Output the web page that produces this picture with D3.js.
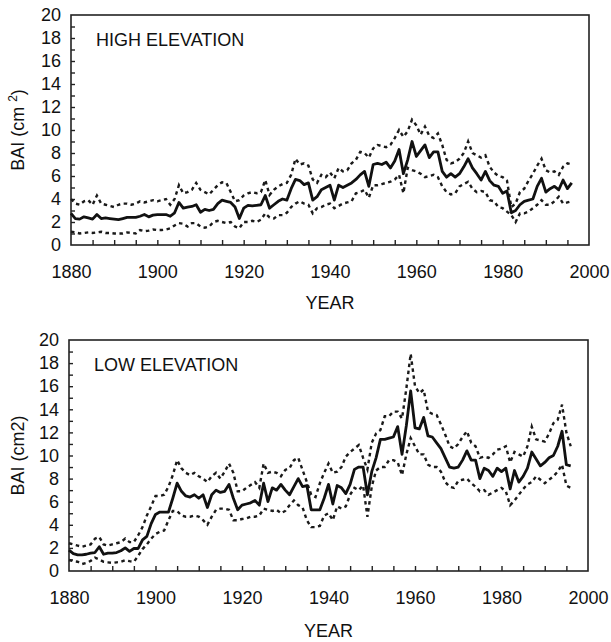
<!DOCTYPE html>
<html>
<head>
<meta charset="utf-8">
<script src="https://cdn.jsdelivr.net/npm/d3@7"></script>
<style>
  body { margin: 0; background: #fff; }
  svg { display: block; font-family: "Liberation Sans", Arial, sans-serif; }
</style>
</head>
<body>
<svg id="chart" width="611" height="642"></svg>
<script>
// years 1880-1996, one value per year
const years = d3.range(1880, 1997);

const highMean = [
  2.75, 2.3, 2.25, 2.45, 2.35, 2.25, 2.65, 2.3, 2.35, 2.3,
  2.25, 2.2, 2.3, 2.4, 2.4, 2.4, 2.5, 2.65, 2.45, 2.6,
  2.65, 2.65, 2.65, 2.5, 2.8, 3.7, 3.2, 3.3, 3.35, 3.5,
  2.85, 3.1, 3.0, 3.1, 3.6, 3.9, 3.8, 3.7, 3.3, 2.3,
  3.2, 3.45, 3.4, 3.45, 3.5, 4.3, 3.2, 3.5, 3.8, 4.0,
  3.9, 4.9, 5.7, 5.6, 5.25, 5.4, 3.9, 4.2, 4.8, 5.0,
  5.2, 3.9, 5.2, 5.0, 5.2, 5.4, 5.7, 6.1, 6.4, 5.1,
  7.0, 7.1, 7.0, 7.2, 6.7, 7.3, 8.3, 6.2, 7.4, 9.0,
  7.7, 8.2, 8.7, 7.6, 8.1, 8.1, 6.4, 5.9, 6.2, 5.9,
  6.2, 6.8, 7.5, 6.7, 6.2, 5.65, 6.4, 5.6, 5.2, 5.1,
  4.5, 4.7, 2.8, 3.0, 3.5, 3.8, 3.9, 4.0, 5.1, 5.8,
  4.6, 4.9, 5.1, 4.8, 5.65, 4.9, 5.4
];
const highUpper = [
  4.0, 3.6, 3.5, 3.8, 3.9, 3.5, 4.3, 3.6, 3.5, 3.4,
  3.3, 3.5, 3.6, 3.6, 3.5, 3.6, 3.8, 3.7, 3.8, 3.9,
  3.8, 3.9, 4.0, 3.5, 4.0, 5.2, 4.5, 4.6, 4.8, 5.4,
  4.8, 4.6, 4.4, 4.8, 5.2, 5.45, 5.4, 4.6, 3.8, 3.9,
  4.3, 4.5, 4.6, 4.5, 4.6, 5.65, 4.35, 4.8, 5.1, 5.3,
  5.4, 6.1, 7.5, 7.0, 7.1, 6.9, 5.7, 5.4, 6.1, 5.9,
  6.3, 5.8, 6.7, 6.4, 6.5, 7.1, 7.4, 8.1, 8.0, 7.6,
  8.4, 8.7, 8.6, 8.5, 8.7, 9.3, 10.0, 9.4, 9.9, 10.9,
  10.4, 9.6, 10.3, 9.5, 9.3, 9.7, 8.7, 7.4, 7.1, 7.2,
  7.5, 8.0, 9.0, 8.0, 7.8, 7.6, 7.8, 6.8, 6.3, 6.0,
  5.9, 5.6, 3.3, 3.6, 4.6, 4.9, 5.6, 6.2, 6.9, 7.5,
  6.5, 6.3, 6.4, 6.1, 6.8, 7.1, 7.0
];
const highLower = [
  1.15, 1.1, 1.0, 1.05, 1.1, 1.05, 1.1, 1.15, 1.05, 1.05,
  1.0, 1.0, 1.0, 1.1, 1.05, 1.0, 1.3, 1.2, 1.25, 1.35,
  1.3, 1.3, 1.35, 1.45, 1.7, 1.9, 1.85, 1.6, 1.9, 1.9,
  1.6, 1.5, 1.6, 2.0, 2.1, 2.0, 1.9, 2.0, 1.6, 1.45,
  2.0, 2.0, 2.1, 2.0, 2.2, 2.75, 2.4, 2.3, 2.6, 2.6,
  2.8, 3.3, 3.6, 3.8, 3.6, 3.5, 2.75, 3.2, 3.3, 3.5,
  3.6, 3.2, 3.4, 3.6, 3.7, 3.8, 4.5, 4.6, 4.8, 4.1,
  5.2, 5.2, 5.3, 5.4, 5.5, 5.7, 6.1, 4.5, 6.7, 6.5,
  6.4, 6.2, 5.9, 6.0, 6.1, 5.9, 5.1, 4.6, 4.4, 4.5,
  5.1, 5.3, 5.5, 4.9, 4.6, 4.7, 4.6, 3.9, 3.8, 3.3,
  3.2, 2.9, 2.6, 2.0, 2.75, 2.75, 2.9, 3.2, 3.5, 3.9,
  3.5, 3.5, 3.8, 4.2, 3.6, 3.7, 3.8
];

const lowMean = [
  1.8, 1.5, 1.4, 1.4, 1.45, 1.55, 1.6, 2.1, 1.45, 1.55,
  1.55, 1.6, 1.75, 2.0, 1.7, 1.95, 1.95, 2.7, 3.0, 4.1,
  4.9, 5.1, 5.1, 5.1, 6.3, 7.6, 6.9, 6.5, 6.4, 6.6,
  6.3, 6.6, 5.5, 6.6, 7.0, 6.8, 6.9, 7.5, 6.3, 5.3,
  5.7, 5.8, 5.9, 6.1, 5.7, 7.6, 6.0, 7.2, 7.0, 7.5,
  7.0, 6.6, 7.3, 8.0, 7.3, 7.4, 5.3, 5.3, 5.3, 6.3,
  7.5, 5.8, 7.4, 7.2, 6.7, 7.5, 8.8, 9.0, 9.0, 6.6,
  8.6, 9.8, 11.4, 11.4, 11.5, 11.6, 12.5, 10.1, 12.6, 15.6,
  12.4, 12.3, 13.3, 11.7, 11.6, 11.1, 10.6, 9.8, 9.0, 8.9,
  9.0, 9.6, 10.4, 9.6, 9.6, 8.0, 8.9, 8.7, 8.2, 8.9,
  8.6, 8.9, 7.1, 8.7, 7.7, 8.2, 8.9, 10.3, 9.7, 9.1,
  9.4, 9.8, 10.0, 10.8, 12.1, 9.2, 9.1
];
const lowUpper = [
  2.4, 2.3, 2.2, 2.1, 2.2, 2.3, 2.8, 2.95, 2.3, 2.2,
  2.3, 2.4, 2.5, 2.8, 2.5, 2.5, 3.1, 3.8, 4.8, 5.6,
  6.5, 6.5, 6.6, 7.3, 8.3, 9.6, 8.9, 8.5, 8.3, 8.5,
  8.2, 8.0, 7.7, 8.2, 8.5, 8.0, 8.6, 9.3, 8.5, 6.9,
  6.9, 7.2, 7.45, 7.7, 7.2, 9.3, 8.5, 8.6, 8.5, 8.2,
  8.75, 8.9, 9.6, 9.8, 8.75, 7.7, 6.6, 6.4, 7.6, 8.5,
  9.3, 8.5, 8.6, 9.0, 9.9, 10.3, 10.6, 10.9, 9.8, 8.8,
  11.1, 11.9, 12.2, 13.4, 13.4, 13.8, 13.8, 13.2, 15.8, 18.8,
  16.0, 15.4, 15.7, 13.8, 13.6, 13.5, 12.7, 11.8, 10.8, 10.6,
  11.0, 11.6, 12.1, 11.1, 10.8, 9.8, 9.9, 9.8, 10.1, 10.5,
  10.6, 10.8, 9.4, 10.3, 10.1, 9.9, 10.8, 12.5, 11.4, 11.3,
  11.2, 11.9, 12.8, 13.1, 14.4, 12.0, 10.8
];
const lowLower = [
  0.95, 0.85, 0.8, 0.6, 0.7, 0.87, 1.16, 1.0, 0.8, 0.75,
  0.7, 0.75, 0.8, 0.93, 0.85, 0.8, 1.3, 1.9, 2.3, 2.8,
  3.2, 3.4, 3.5, 4.4, 5.2, 5.2, 4.8, 4.7, 4.7, 4.8,
  4.7, 4.4, 4.0, 4.7, 5.3, 5.4, 5.4, 5.3, 4.4, 4.4,
  4.5, 4.55, 4.7, 4.7, 4.8, 5.4, 5.3, 5.2, 5.3, 5.0,
  5.2, 5.7, 6.1, 5.7, 5.5, 4.4, 3.8, 3.8, 3.9, 4.8,
  5.0, 4.4, 5.6, 5.4, 5.6, 6.6, 7.2, 7.0, 7.4, 4.7,
  7.3, 8.7, 9.0, 9.0, 9.6, 9.6, 9.4, 8.3, 10.1, 11.5,
  10.8, 10.1, 10.1, 9.2, 9.0, 9.0, 8.6, 7.7, 7.3, 7.2,
  7.8, 7.9, 8.0, 7.6, 7.3, 6.9, 7.0, 6.6, 6.8, 7.0,
  7.2, 6.9, 5.7, 6.1, 6.6, 7.1, 7.5, 7.7, 8.2, 7.9,
  7.6, 7.9, 8.2, 8.6, 9.2, 7.4, 7.2
];

const yTickLabels = d3.range(0, 21, 2);
const xTickLabels = [1880, 1900, 1920, 1940, 1960, 1980, 2000];

const svg = d3.select('#chart');
const fontFam = '"Liberation Sans", Arial, sans-serif';

function drawPanel(p) {
  const x = d3.scaleLinear().domain([1880, 2000]).range([p.left, p.right]);
  const y = d3.scaleLinear().domain([0, 20]).range([p.bottom, p.top]);
  const g = svg.append('g');

  // inner ticks: every 5 years on x, every unit on y
  g.append('g')
    .attr('transform', `translate(0,${p.bottom})`)
    .call(d3.axisTop(x).tickValues(d3.range(1885, 2000, 5)).tickSize(5).tickFormat(''))
    .call(a => a.select('.domain').remove())
    .selectAll('line').attr('stroke', '#222').attr('stroke-width', 1.4);

  g.append('g')
    .attr('transform', `translate(${p.left},0)`)
    .call(d3.axisRight(y).tickValues(d3.range(1, 20)).tickSize(4).tickFormat(''))
    .call(a => a.select('.domain').remove())
    .selectAll('line').attr('stroke', '#222').attr('stroke-width', 1.4);

  // tick labels
  g.append('g')
    .attr('transform', `translate(0,${p.bottom})`)
    .call(d3.axisBottom(x).tickValues(xTickLabels).tickSize(0).tickPadding(p.xPad).tickFormat(d3.format('d')))
    .call(a => a.select('.domain').remove())
    .selectAll('text')
    .attr('font-size', 18).attr('font-family', fontFam).attr('fill', '#111');

  g.append('g')
    .attr('transform', `translate(${p.left},0)`)
    .call(d3.axisLeft(y).tickValues(yTickLabels).tickSize(0).tickPadding(10))
    .call(a => a.select('.domain').remove())
    .selectAll('text')
    .attr('font-size', 18).attr('font-family', fontFam).attr('fill', '#111');

  // frame
  g.append('rect')
    .attr('x', p.left).attr('y', p.top)
    .attr('width', p.right - p.left).attr('height', p.bottom - p.top)
    .attr('fill', 'none').attr('stroke', '#222').attr('stroke-width', 1.6);

  const line = d3.line().x((d, i) => x(years[i])).y(d => y(d));

  [p.upper, p.lower].forEach(s => {
    g.append('path')
      .datum(s)
      .attr('d', line)
      .attr('fill', 'none')
      .attr('stroke', '#1a1a1a')
      .attr('stroke-width', 2.4)
      .attr('stroke-dasharray', '3.5,3.5');
  });

  g.append('path')
    .datum(p.mean)
    .attr('d', line)
    .attr('fill', 'none')
    .attr('stroke', '#111')
    .attr('stroke-width', 2.8)
    .attr('stroke-linejoin', 'round');

  g.append('text')
    .attr('x', p.left + 25).attr('y', p.top + 31)
    .attr('font-size', 18).attr('fill', '#111')
    .text(p.title);

  g.append('text')
    .attr('x', (p.left + p.right) / 2).attr('y', p.yearY)
    .attr('text-anchor', 'middle')
    .attr('font-size', 18).attr('fill', '#111')
    .text('YEAR');

  const yl = g.append('text')
    .attr('transform', `translate(${p.labelX},${(p.top + p.bottom) / 2}) rotate(-90)`)
    .attr('text-anchor', 'middle')
    .attr('font-size', 18).attr('fill', '#111');
  p.yLabel(yl);
}

drawPanel({
  left: 71, right: 589, top: 15, bottom: 245, xPad: 20, yearY: 309, labelX: 24,
  title: 'HIGH ELEVATION', mean: highMean, upper: highUpper, lower: highLower,
  yLabel: t => {
    t.append('tspan').text('BAI (cm ');
    t.append('tspan').attr('dy', -7).attr('font-size', 12).text('2');
    t.append('tspan').attr('dy', 7).text(')');
  }
});

drawPanel({
  left: 69, right: 588, top: 340, bottom: 571, xPad: 20, yearY: 637, labelX: 24,
  title: 'LOW ELEVATION', mean: lowMean, upper: lowUpper, lower: lowLower,
  yLabel: t => t.text('BAI (cm2)')
});
</script>
</body>
</html>
